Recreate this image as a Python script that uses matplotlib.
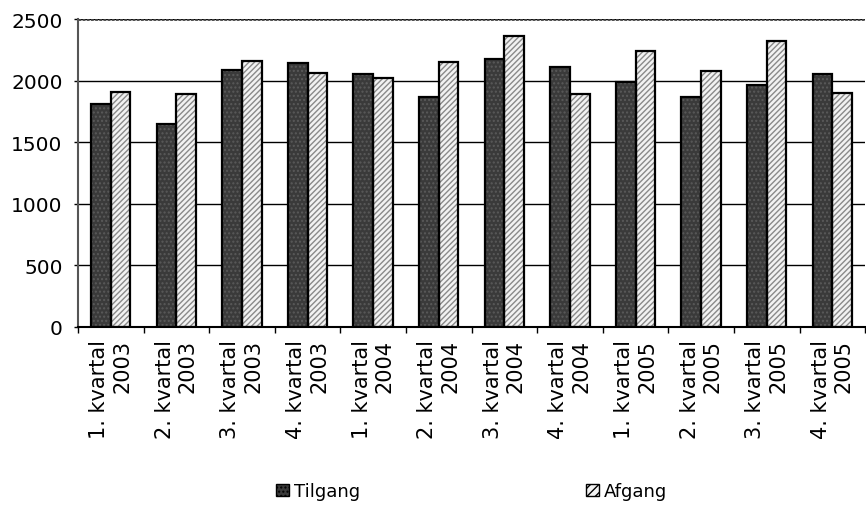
import matplotlib.pyplot as plt
import numpy as np

# data
quarters = ['1. kvartal\n2003', '2. kvartal\n2003', '3. kvartal\n2003', '4. kvartal\n2003',
            '1. kvartal\n2004', '2. kvartal\n2004', '3. kvartal\n2004', '4. kvartal\n2004',
            '1. kvartal\n2005', '2. kvartal\n2005', '3. kvartal\n2005', '4. kvartal\n2005']
tilgang = [1815, 1650, 2085, 2145, 2055, 1870, 2180, 2110, 1990, 1865, 1965, 2055]
afgang = [1905, 1895, 2160, 2065, 2025, 2150, 2360, 1895, 2245, 2080, 2325, 1900]
yticks = [0, 500, 1000, 1500, 2000, 2500]

fig = plt.figure(figsize=(8.66, 5.06), dpi=100)
ax = fig.add_axes([0.09, 0.352, 0.909, 0.608])

x = np.arange(len(quarters))
w = 0.3

# fill + hatch layer (hatch takes the edge colour), then black outline layer
ax.bar(x - w / 2, tilgang, w, color='#3a3a3a', edgecolor='#5a5a5a', hatch='....', linewidth=0, zorder=2)
ax.bar(x + w / 2, afgang, w, color='#f2f2f2', edgecolor='#8a8a8a', hatch='//////', linewidth=0, zorder=2)
ax.bar(x - w / 2, tilgang, w, fill=False, edgecolor='black', linewidth=1.6, zorder=3)
ax.bar(x + w / 2, afgang, w, fill=False, edgecolor='black', linewidth=1.6, zorder=3)

ax.set_xlim(-0.5, len(quarters) - 0.5)
ax.set_ylim(0, 2500)
ax.set_yticks(yticks)
ax.yaxis.grid(True, color='black', linewidth=1.0, zorder=1)
ax.set_axisbelow(True)

ax.set_xticks(x)
ax.set_xticklabels(quarters, rotation=90, ha='center', va='top', multialignment='right', fontsize=15)
ax.set_xticks(np.arange(len(quarters) + 1) - 0.5, minor=True)
ax.tick_params(axis='x', which='major', length=0, pad=9)
ax.tick_params(axis='x', which='minor', length=4, width=1, direction='out')
ax.tick_params(axis='y', length=3, width=1, direction='out', pad=8, labelsize=14.5)

for s in ['top', 'right']:
    ax.spines[s].set_visible(False)
ax.spines['left'].set_color('#555555')
ax.spines['left'].set_linewidth(1.5)
ax.spines['bottom'].set_linewidth(1.5)
ax.axhline(2500, color='#444444', linewidth=2, linestyle=(0, (1, 0.5)), zorder=1)

from matplotlib.patches import Patch
handles = [Patch(facecolor='#3a3a3a', edgecolor='black', hatch='....', label='Tilgang'),
           Patch(facecolor='#f2f2f2', edgecolor='black', hatch='////', label='Afgang')]
fig.legend(handles=handles, loc='center', bbox_to_anchor=(0.545, 0.027), ncol=2, frameon=False,
           fontsize=13, columnspacing=12.5, handlelength=0.7, handleheight=0.7, handletextpad=0.3)

plt.savefig('out.png', dpi=100)
